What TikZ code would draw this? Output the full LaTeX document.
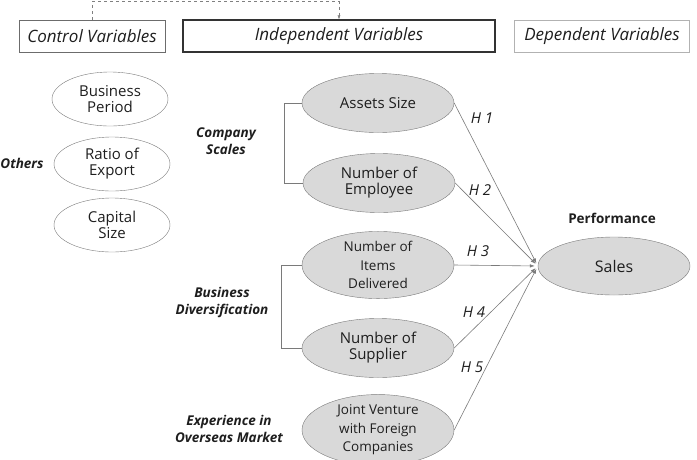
\documentclass[tikz,border=0pt]{standalone}
\usepackage{fontspec}
\setmainfont{Open Sans}
\usetikzlibrary{shapes.geometric,arrows.meta}
\definecolor{txt}{HTML}{1E1E1E}
\definecolor{efill}{HTML}{D9D9D9}
\definecolor{eline}{HTML}{7A7A7A}
\tikzset{hbox/.style = {draw=gray!85!black, thick, rectangle, minimum height=32pt, inner sep=0pt, font=\fontsize{17}{18}\selectfont\itshape, text=txt},
         cvar/.style = {draw=eline, ellipse, inner sep=0pt, minimum width=116pt, minimum height=54pt, align=center, font=\fontsize{15}{18}\selectfont, text=txt},
         ivar/.style = {cvar, fill=efill, minimum width=152pt, minimum height=59pt},
         svar/.style = {ivar, font=\fontsize{13.5}{18.5}\selectfont},
         glabel/.style = {align=center, font=\fontsize{13.5}{17}\selectfont\bfseries\itshape, text=txt},
         hyp/.style = {font=\fontsize{15}{16}\selectfont\itshape, text=txt},
         link/.style = {draw=eline, semithick, shorten >=3pt, -{Latex[length=5pt,width=3.5pt]}}}

\begin{document}
\begin{tikzpicture}[x=1pt,y=-1pt]
        \useasboundingbox (0,0) rectangle (697,459);
        % headings
        \node[hbox, minimum width=146pt](ctrl)at(92,36){Control Variables};
        \node[hbox, minimum width=312pt, very thick, draw=black!80](indep)at(339,36){Independent Variables};
        \node[hbox, minimum width=175pt, draw=gray!60](dep)at(602,36){Dependent Variables};
        \draw[dashed, draw=gray, -{Latex[length=4pt,width=3pt]}](ctrl.north)--++(0,-18)-|(indep.north);
        % control variables
        \node[glabel](oth)at(22,163){Others};
        \node[cvar](bp)at(110,99){Business\\[-2pt]Period};
        \node[cvar](re)at(112,164){Ratio of\\[-2pt]Export};
        \node[cvar](cs)at(112,225){Capital\\[-2pt]Size};
        % independent variables
        \node[glabel](csc)at(226,141){Company\\Scales};
        \node[ivar](as)at(378,103){Assets Size};
        \node[ivar](ne)at(379,183){Number of\\[-2pt]Employee};
        \draw[draw=eline, semithick](as.west)--++(-18,0)|-(ne.west);
        \node[glabel](bd)at(222,302){Business\\Diversification};
        \node[svar](ni)at(378,265){Number of\\Items\\Delivered};
        \node[ivar](ns)at(378,348){Number of\\[-2pt]Supplier};
        \draw[draw=eline, semithick](ni.west)--++(-21,0)|-(ns.west);
        \node[glabel](ex)at(229,429){Experience in\\Overseas Market};
        \node[svar](jv)at(378,430){Joint Venture\\with Foreign\\Companies};
        % dependent variable
        \node[glabel, font=\fontsize{13.5}{14}\selectfont\bfseries](perf)at(612,218){Performance};
        \node[ivar, minimum width=152pt, minimum height=58pt, font=\fontsize{16}{18}\selectfont](sal)at(614,266){Sales};
        % hypotheses
        \draw[link](as.east)--(sal.west);
        \draw[link](ne.east)--(sal.west);
        \draw[link](ni.east)--(sal.west);
        \draw[link](ns.east)--(sal.west);
        \draw[link](jv.east)--(sal.west);
        \node[hyp](h1)at(482,118){H 1};
        \node[hyp](h2)at(480,190){H 2};
        \node[hyp](h3)at(478,251){H 3};
        \node[hyp](h4)at(474,312){H 4};
        \node[hyp](h5)at(472,367){H 5};
    \end{tikzpicture}
\end{document}
